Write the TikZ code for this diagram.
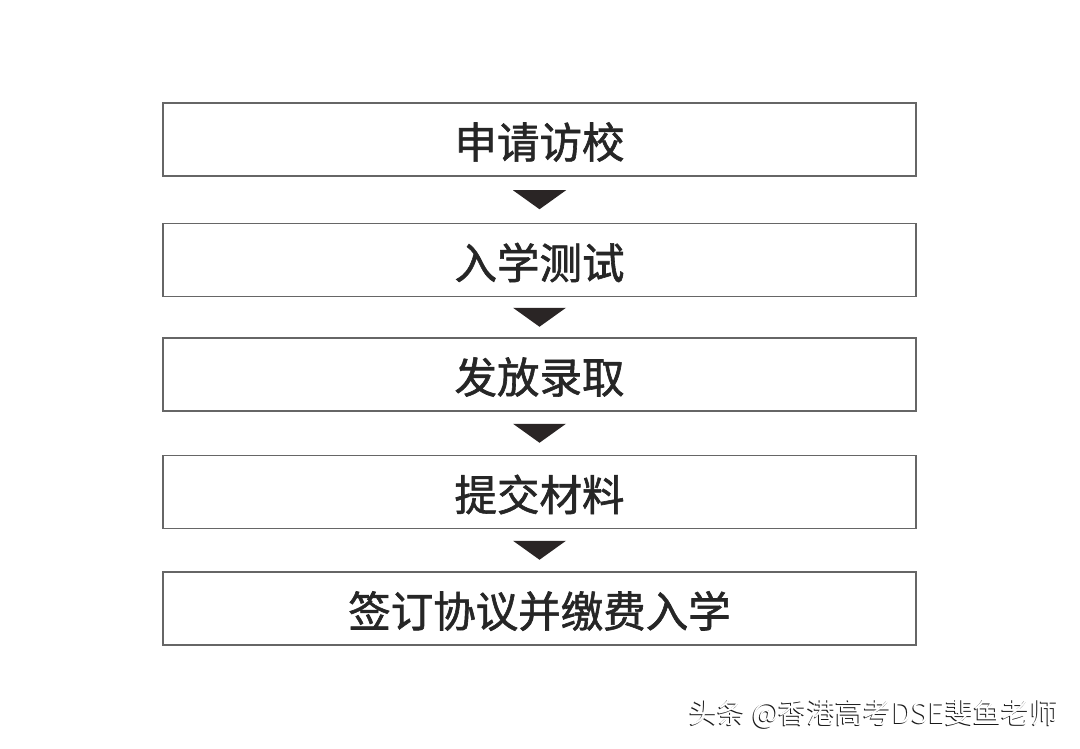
\documentclass[tikz,border=0pt]{standalone}
\usepackage{fontspec}
\newfontfamily\cjk{Noto Sans CJK SC}
\newfontfamily\cjkb[FakeBold=1.4]{Noto Sans CJK SC}
\begin{document}
\begin{tikzpicture}[x=1pt,y=-1pt,
  stepbox/.style={draw=black!60,line width=1.5pt,fill=white,minimum width=753pt,minimum height=73pt,inner sep=0pt},
  steptext/.style={font=\cjkb\fontsize{42.5}{42.5}\selectfont,text=black!85,inner sep=0pt}]
\useasboundingbox[fill=white] (0,0) rectangle (1080,749);
\node[stepbox] (b1) at (539.5,139.5) {};
\node[stepbox] (b2) at (539.5,260) {};
\node[stepbox] (b3) at (539.5,374.5) {};
\node[stepbox] (b4) at (539.5,492) {};
\node[stepbox] (b5) at (539.5,608.5) {};
\node[steptext] (t1) at ([yshift=-2.5]b1.center) {申请访校};
\node[steptext] (t2) at ([yshift=-2.5]b2.center) {入学测试};
\node[steptext] (t3) at ([yshift=-2.5]b3.center) {发放录取};
\node[steptext] (t4) at ([yshift=-2.5]b4.center) {提交材料};
\node[steptext] (t5) at ([yshift=-2.5]b5.center) {签订协议并缴费入学};
\foreach \a/\b in {b1/b2,b2/b3,b3/b4,b4/b5}{
  \path (\a.south) -- (\b.north) coordinate[pos=0.5] (m\a);
  \fill[fill={rgb,255:red,42;green,37;blue,37}] ([shift={(-26.5,-9.5)}]m\a) -- ([shift={(26.5,-9.5)}]m\a) -- ([shift={(0,9.5)}]m\a) -- cycle;
}
\node[anchor=east,font=\cjk\fontsize{28.3}{28.3}\selectfont,text=black!90,inner sep=0pt] (wm0) at (1057.5,715) {头条 @香港高考DSE斐鱼老师};
\node[anchor=east,font=\cjk\fontsize{28.3}{28.3}\selectfont,text=white,inner sep=0pt] (wm) at (1058.5,714) {头条 @香港高考DSE斐鱼老师};
\end{tikzpicture}
\end{document}
